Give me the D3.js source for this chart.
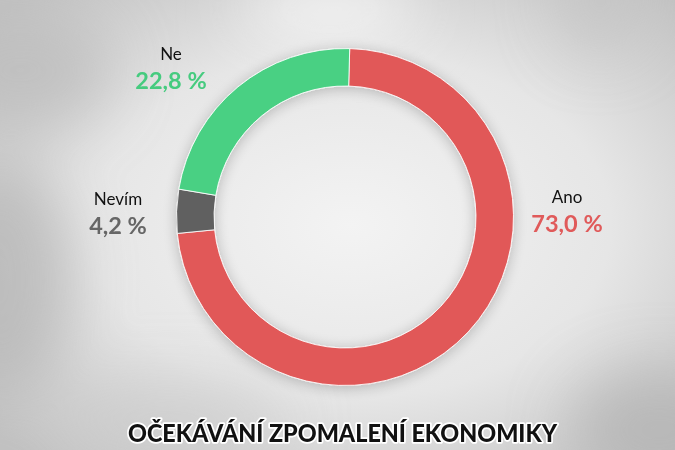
<!DOCTYPE html>
<html>
<head>
<meta charset="utf-8">
<script src="https://cdn.jsdelivr.net/npm/d3@7"></script>
<style>
  html, body { margin: 0; padding: 0; background: #e2e2e2; }
  svg { display: block; }
</style>
</head>
<body>
<div id="chart"></div>
<script>
// Data
const categories = ["Ano", "Nevím", "Ne"];
const values = [73.0, 4.2, 22.8];
const sliceColors = ["#e15858", "#606060", "#48d083"];
const labelColors = ["#e05a5a", "#666666", "#46cb7f"];
const title = "OČEKÁVÁNÍ ZPOMALENÍ EKONOMIKY";

const width = 675;
const height = 450;
const cx = 345;
const cy = 217;
const outerR = 168.5;
const innerR = 131;
const rotation = 0.028; // slight clockwise turn of the whole ring

// label anchor offsets from centre (name baseline), one per category
const labelOffsets = [
  [222, -14],
  [-227, -12],
  [-174, -157]
];

const svg = d3.select("#chart")
  .append("svg")
  .attr("width", width)
  .attr("height", height);

const defs = svg.append("defs");

// background gradient
const bg = defs.append("radialGradient")
  .attr("id", "bg")
  .attr("cx", "52%").attr("cy", "50%").attr("r", "70%");
bg.append("stop").attr("offset", "0%").attr("stop-color", "#f3f3f3");
bg.append("stop").attr("offset", "55%").attr("stop-color", "#e6e6e6");
bg.append("stop").attr("offset", "100%").attr("stop-color", "#c2c2c2");

const blur = defs.append("filter")
  .attr("id", "blur")
  .attr("x", "-50%").attr("y", "-50%").attr("width", "200%").attr("height", "200%");
blur.append("feGaussianBlur").attr("stdDeviation", 30);

const shadow = defs.append("filter")
  .attr("id", "shadow")
  .attr("x", "-20%").attr("y", "-20%").attr("width", "140%").attr("height", "140%");
shadow.append("feGaussianBlur").attr("in", "SourceAlpha").attr("stdDeviation", 7);
shadow.append("feOffset").attr("dx", 0).attr("dy", 2).attr("result", "b");
shadow.append("feComponentTransfer").append("feFuncA").attr("type", "linear").attr("slope", 0.22);
const merge = shadow.append("feMerge");
merge.append("feMergeNode");
merge.append("feMergeNode").attr("in", "SourceGraphic");

svg.append("rect")
  .attr("width", width)
  .attr("height", height)
  .attr("fill", "url(#bg)");

// soft blotches of the blurred photo background
const blobs = svg.append("g").attr("filter", "url(#blur)");
blobs.append("ellipse").attr("cx", 20).attr("cy", 70).attr("rx", 90).attr("ry", 60).attr("fill", "#bdbdbd").attr("opacity", 0.8);
blobs.append("ellipse").attr("cx", 0).attr("cy", 280).attr("rx", 70).attr("ry", 120).attr("fill", "#b8b8b8").attr("opacity", 0.8);
blobs.append("ellipse").attr("cx", 660).attr("cy", 430).attr("rx", 90).attr("ry", 60).attr("fill", "#b4b4b4").attr("opacity", 0.8);
blobs.append("ellipse").attr("cx", 600).attr("cy", 0).attr("rx", 40).attr("ry", 50).attr("fill", "#c4c4c4").attr("opacity", 0.8);
blobs.append("ellipse").attr("cx", 330).attr("cy", 10).attr("rx", 90).attr("ry", 30).attr("fill", "#f6f6f6").attr("opacity", 0.9);
blobs.append("ellipse").attr("cx", 170).attr("cy", 420).attr("rx", 120).attr("ry", 40).attr("fill", "#cacaca").attr("opacity", 0.6);

// Pie
const pie = d3.pie()
  .value(d => d)
  .sort(null)
  .startAngle(rotation)
  .endAngle(rotation + 2 * Math.PI);

const arcs = pie(values);

const arc = d3.arc()
  .innerRadius(innerR)
  .outerRadius(outerR);

const ring = svg.append("g")
  .attr("transform", `translate(${cx},${cy})`)
  .attr("filter", "url(#shadow)");

ring.selectAll("path")
  .data(arcs)
  .join("path")
  .attr("d", arc)
  .attr("fill", (d, i) => sliceColors[i])
  .attr("stroke", "#ffffff")
  .attr("stroke-opacity", 0.85)
  .attr("stroke-width", 1);

// Labels
const labels = svg.append("g")
  .attr("transform", `translate(${cx},${cy})`)
  .attr("text-anchor", "middle")
  .attr("font-family", "Lato, 'DejaVu Sans', sans-serif");

const lab = labels.selectAll("g")
  .data(arcs)
  .join("g")
  .attr("transform", (d, i) => `translate(${labelOffsets[i][0]},${labelOffsets[i][1]})`);

lab.append("text")
  .attr("font-size", 17)
  .attr("fill", "#111")
  .text((d, i) => categories[i]);

lab.append("text")
  .attr("y", 29)
  .attr("font-size", 23.5)
  .attr("font-weight", "bold")
  .attr("fill", (d, i) => labelColors[i])
  .text(d => d3.format(".1f")(d.data).replace(".", ",") + " %");

// Title
svg.append("text")
  .attr("x", 342.5)
  .attr("y", 442)
  .attr("text-anchor", "middle")
  .attr("font-family", "Lato, 'DejaVu Sans', sans-serif")
  .attr("font-weight", 900)
  .attr("font-size", 24)
  .attr("textLength", 429)
  .attr("lengthAdjust", "spacingAndGlyphs")
  .attr("fill", "#111")
  .attr("stroke", "#ffffff")
  .attr("stroke-width", 3.5)
  .attr("stroke-linejoin", "round")
  .attr("paint-order", "stroke")
  .text(title);
</script>
</body>
</html>
